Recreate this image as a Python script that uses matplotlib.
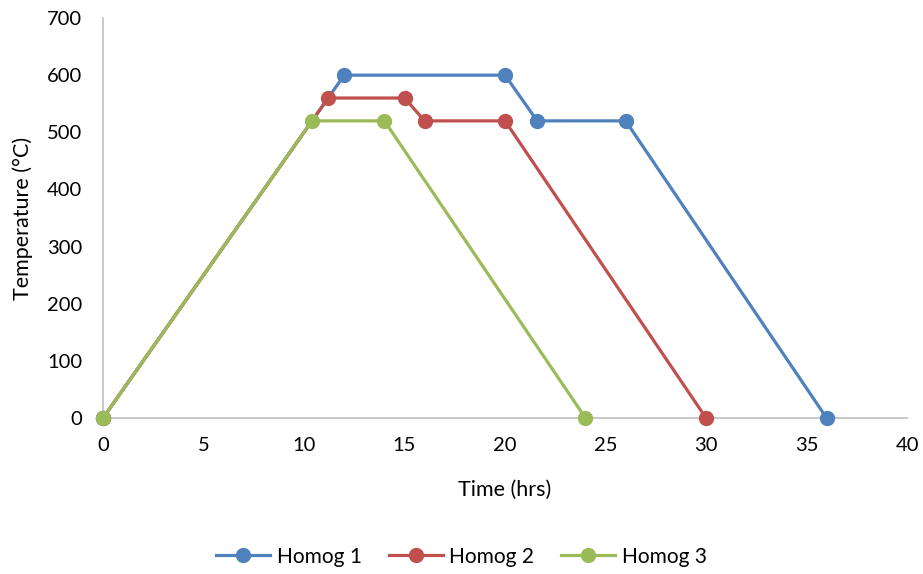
import matplotlib.pyplot as plt

plt.rcParams['font.family'] = ['Lato', 'DejaVu Sans']

# time (hrs) / temperature (°C) for each homogenisation schedule
t_homog1 = [0, 12, 20, 21.6, 26, 36]
temp_homog1 = [0, 600, 600, 520, 520, 0]
t_homog2 = [0, 11.2, 15, 16, 20, 30]
temp_homog2 = [0, 560, 560, 520, 520, 0]
t_homog3 = [0, 10.4, 14, 24]
temp_homog3 = [0, 520, 520, 0]

fig = plt.figure(figsize=(9.23, 5.74), dpi=100)
ax = fig.add_axes([0.1116, 0.2718, 0.8711, 0.6968])

ax.plot(t_homog1, temp_homog1, color='#4F81BD', lw=2.3, marker='o', ms=10, label='Homog 1', clip_on=False, zorder=3)
ax.plot(t_homog2, temp_homog2, color='#C0504D', lw=2.3, marker='o', ms=10, label='Homog 2', clip_on=False, zorder=4)
ax.plot(t_homog3, temp_homog3, color='#9BBB59', lw=2.3, marker='o', ms=10, label='Homog 3', clip_on=False, zorder=5)

ax.set_xlim(0, 40)
ax.set_ylim(0, 700)
ax.set_xticks(range(0, 41, 5))
ax.set_yticks(range(0, 701, 100))
ax.tick_params(length=0, labelsize=14.5)
ax.tick_params(axis='y', pad=15)
ax.tick_params(axis='x', pad=14)
for s in ['top', 'right']:
    ax.spines[s].set_visible(False)
for s in ['left', 'bottom']:
    ax.spines[s].set_color('#BFBFBF')
    ax.spines[s].set_linewidth(1.2)

ax.set_xlabel('Time (hrs)', fontsize=15.5, labelpad=18)
ax.set_ylabel('Temperature (°C)', fontsize=15.5, labelpad=10)

fig.legend(loc='center', bbox_to_anchor=(0.5, 0.03), ncol=3, frameon=False,
           fontsize=15, handlelength=2.6, columnspacing=1.3, handletextpad=0.3)

fig.savefig('out.png', dpi=100)
